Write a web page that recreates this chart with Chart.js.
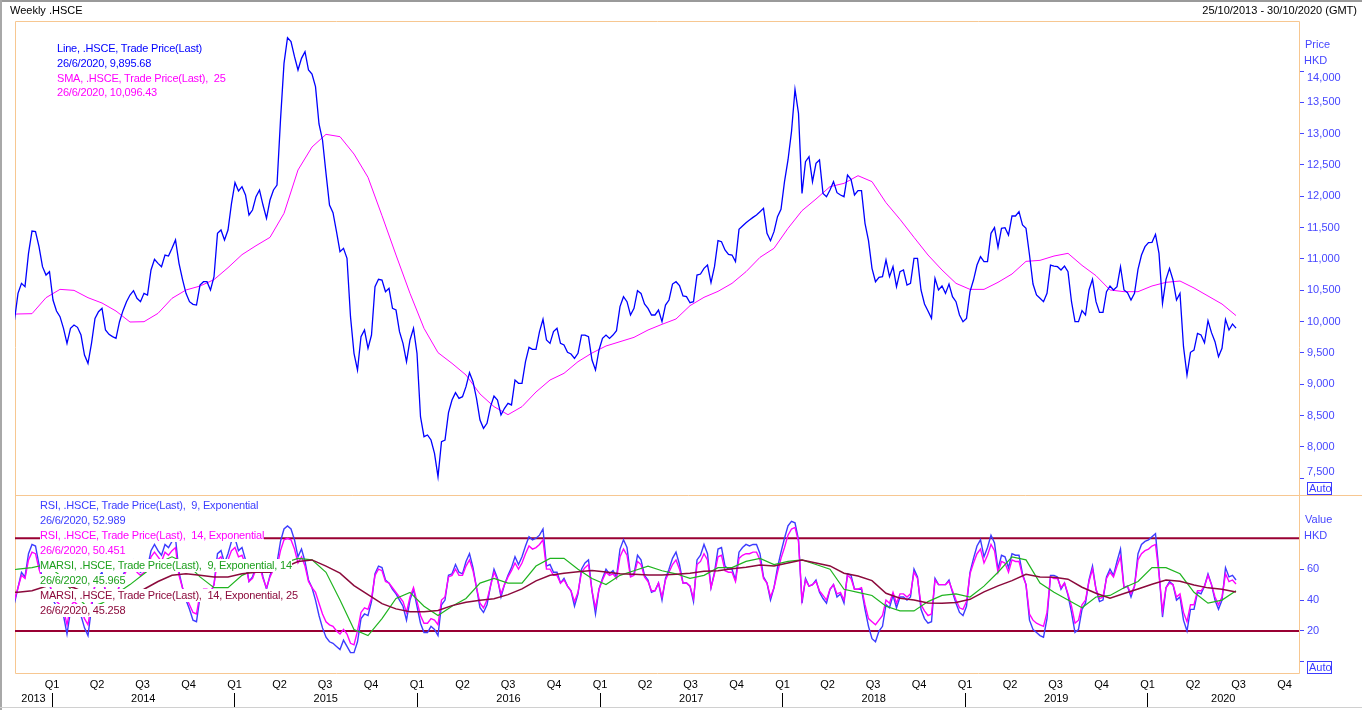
<!DOCTYPE html>
<html><head><meta charset="utf-8">
<script src="https://cdn.jsdelivr.net/npm/chart.js@4.4.1/dist/chart.umd.min.js"></script>
<style>
html,body{margin:0;padding:0;background:#fff;}
#wrap{position:relative;width:1362px;height:710px;overflow:hidden;font-family:"Liberation Sans",Arial,sans-serif;font-size:11px;}
canvas{position:absolute;left:0;top:0;}
.t{position:absolute;white-space:pre;line-height:13px;}
.lg{background:#fff;letter-spacing:-0.2px;}
.auto{position:absolute;box-sizing:border-box;border:1px solid #3c3cff;color:#3c3cff;line-height:11px;padding:0 1px;height:13px;width:25px;}
.ln{position:absolute;}
</style></head>
<body><div id="wrap">
<canvas id="c" width="1362" height="710"></canvas>
<div class="ln" style="left:0;top:0;width:1362px;height:2px;background:#9a9a9a"></div>
<div class="ln" style="left:0;top:0;width:2px;height:710px;background:#a8a8a8"></div>
<div class="ln" style="left:0;top:707px;width:1362px;height:1px;background:#d0d0d0"></div>
<div class="t" style="left:10px;top:4px;color:#000">Weekly .HSCE</div>
<div class="t" style="right:5px;top:4px;color:#000">25/10/2013 - 30/10/2020 (GMT)</div>

<div class="t lg" style="left:57px;top:42px;color:#0000ff">Line, .HSCE, Trade Price(Last)</div>
<div class="t lg" style="left:57px;top:57px;color:#0000ff">26/6/2020, 9,895.68</div>
<div class="t lg" style="left:57px;top:72px;color:#ff00ff">SMA, .HSCE, Trade Price(Last),  25</div>
<div class="t lg" style="left:57px;top:86px;color:#ff00ff">26/6/2020, 10,096.43</div>

<div class="t lg" style="left:40px;top:499px;color:#3c3cff">RSI, .HSCE, Trade Price(Last),  9, Exponential</div>
<div class="t lg" style="left:40px;top:514px;color:#3c3cff">26/6/2020, 52.989</div>
<div class="t lg" style="left:40px;top:529px;color:#ff00ff">RSI, .HSCE, Trade Price(Last),  14, Exponential</div>
<div class="t lg" style="left:40px;top:544px;color:#ff00ff">26/6/2020, 50.451</div>
<div class="t lg" style="left:40px;top:559px;color:#1ea01e">MARSI, .HSCE, Trade Price(Last),  9, Exponential, 14</div>
<div class="t lg" style="left:40px;top:574px;color:#1ea01e">26/6/2020, 45.965</div>
<div class="t lg" style="left:40px;top:589px;color:#8b0a3c">MARSI, .HSCE, Trade Price(Last),  14, Exponential, 25</div>
<div class="t lg" style="left:40px;top:604px;color:#8b0a3c">26/6/2020, 45.258</div>

<div class="t" style="left:1305px;top:38px;color:#4646ff">Price</div>
<div class="t" style="left:1304px;top:54px;color:#4646ff">HKD</div>
<div class="auto" style="left:1307px;top:482px">Auto</div>
<div class="t" style="left:1305px;top:513px;color:#4646ff">Value</div>
<div class="t" style="left:1304px;top:529px;color:#4646ff">HKD</div>
<div class="auto" style="left:1307px;top:661px">Auto</div>
</div>
<script>
// ---------- DATA (weekly, first point = week -1, i.e. 18/10/2013; week 0 = 25/10/2013) ----------
const firstWeek = -1;
const priceValues = [
10026,
10451,10611,10558,11090,11446,11436,11196,10877,10744,10797,
10345,10169,10079,9893,9653,9893,9946,9909,9786,9467,
9334,9653,10052,10159,10212,9866,9797,9760,9733,9999,
10175,10318,10425,10494,10372,10318,10451,10425,10824,10994,
10930,10877,11063,11047,11170,11303,10930,10675,10451,10318,
10276,10265,10584,10637,10637,10505,10717,11409,11462,11303,
11462,11888,12218,12085,12154,12021,11702,11781,11994,12101,
11861,11648,11941,12101,12180,13218,14122,14532,14468,14229,
14016,14202,14308,14016,13952,13750,13154,12899,12367,11861,
11739,11436,11117,11170,11010,10079,9494,9228,9760,9866,
9573,9786,10558,10675,10664,10478,10531,10212,10185,9840,
9653,9361,9707,9893,9494,8483,8164,8191,8111,7898,
7526,8084,8111,8547,8749,8866,8776,8802,8962,9185,
9042,8776,8430,8297,8377,8643,8813,8749,8510,8617,
8696,8670,9068,9015,9015,9361,9590,9558,9558,9840,
10037,9707,9653,9840,9893,9653,9627,9510,9483,9414,
9494,9786,9786,9760,9388,9228,9547,9733,9786,9733,
9786,9856,10239,10398,10318,10106,10212,10494,10451,10281,
10212,10106,10106,10185,9999,10265,10345,10600,10637,10574,
10409,10398,10302,10318,10744,10760,10850,10903,10622,10877,
11292,11276,11143,11074,11063,10957,11473,11526,11579,11622,
11664,11702,11755,11808,11409,11292,11436,11675,11792,12234,
12580,13032,13707,13324,12047,12553,12633,12234,12526,12580,
12047,11994,12101,12234,12058,12021,11994,12340,12271,12021,
12090,12090,11569,11292,10850,10637,10707,10717,10983,10717,
10877,10558,10797,10824,10584,10611,11010,11010,10505,10281,
10170,10052,10691,10505,10568,10451,10600,10398,10318,10106,
9999,10052,10478,10664,10904,11037,10957,10957,11409,11500,
11186,11489,11500,11382,11686,11686,11755,11542,11489,11063,
10600,10425,10372,10318,10451,10903,10887,10877,10824,10887,
10797,10318,9999,9999,10175,10106,10505,10675,10318,10148,
10148,10478,10568,10505,10558,10877,10505,10462,10345,10451,
10835,11063,11196,11260,11265,11393,11090,10292,10675,10850,
10664,10345,10451,9600,9148,9510,9547,9813,9786,9664,
10015,9824,9680,9441,9574,10036,9866,9962,9896
];
const rsi9Values = [
38,
48,58,55,70,76,75,63,54,49,51,
40,36,34,30,18,33,36,34,30,22,
17,35,50,55,58,45,42,41,40,50,
56,61,64,66,60,58,60,61,72,76,
72,69,76,74,78,80,58,48,40,34,
27,26,42,46,46,44,50,70,72,64,
70,78,80,72,74,66,52,55,62,65,
55,47,56,62,64,78,86,88,86,79,
68,73,65,53,48,40,30,22,16,13,
12,10,8,14,10,6,6,13,28,31,
30,39,57,62,61,53,51,47,44,40,
36,27,40,47,36,25,19,19,23,21,
17,37,40,56,57,63,58,57,65,70,
61,48,35,32,37,49,60,54,42,50,
56,61,68,63,68,75,81,79,80,82,
86,62,63,58,58,51,54,49,46,36,
44,60,64,66,46,31,47,54,60,57,
59,55,73,79,74,56,57,69,66,56,
53,45,46,51,40,54,60,67,71,63,
51,51,49,39,66,69,76,70,48,58,
73,74,62,60,60,53,71,74,76,75,
76,76,70,55,51,40,48,61,71,80,
88,91,90,79,38,54,49,50,53,45,
41,38,47,50,42,44,38,57,56,47,
47,47,34,23,15,13,20,23,37,35,
43,35,42,42,40,42,60,55,34,28,
25,26,54,50,50,50,53,45,38,32,
30,36,58,67,75,79,68,74,82,77,
60,69,68,61,70,69,69,57,50,27,
21,19,17,16,28,56,56,55,47,51,
43,32,19,21,34,38,53,62,47,39,
40,55,60,56,65,73,48,49,42,49,
70,76,78,79,81,83,58,29,48,52,
50,40,42,27,20,34,34,45,44,49,
57,50,40,34,40,61,55,56,52.989
];
const rsi14Values = [
40,
48,56,54,66,71,70,60,53,49,51,
42,39,37,34,24,36,39,37,34,28,
24,38,50,54,56,46,44,43,42,50,
55,59,61,63,58,56,58,59,68,71,
68,65,71,69,72,74,56,48,42,37,
32,31,44,47,47,45,50,66,68,61,
66,72,74,68,69,63,52,54,60,62,
54,48,55,60,61,72,79,80,79,73,
64,68,62,52,48,45,38,31,26,24,
23,20,18,21,18,12,11,20,32,35,
34,41,56,60,59,52,51,48,45,42,
39,32,42,48,39,30,25,25,28,27,
24,40,42,55,56,60,56,56,62,66,
59,48,38,35,40,49,58,53,44,50,
55,59,64,60,64,70,75,73,74,76,
79,60,60,56,56,51,53,49,46,39,
45,58,61,63,46,35,47,53,58,56,
57,54,68,73,69,55,56,65,63,55,
52,46,46,51,42,53,58,63,66,60,
51,51,49,41,63,65,70,66,48,57,
68,69,59,58,58,52,67,69,70,70,
71,71,66,54,51,42,48,58,67,74,
82,86,87,78,40,53,49,50,52,46,
43,40,47,50,44,45,40,56,54,47,
47,48,37,28,26,24,27,30,40,38,
45,38,44,44,42,44,58,54,37,33,
30,31,53,50,50,50,52,46,40,35,
34,39,57,64,70,73,64,69,76,72,
58,65,64,58,66,65,65,56,50,31,
27,25,24,23,32,55,54,54,48,51,
44,36,25,27,37,40,52,60,47,41,
42,54,58,55,62,68,48,49,44,49,
66,70,72,73,75,76,57,33,48,51,
50,42,44,32,26,37,37,46,46,49,
56,50,42,37,42,57,52,53,50.451
];
// smooth series read every 4 weeks, starting at week -4
const smoothFirstWeek = -4, smoothStep = 4;
const smaValues = [
10110,10122,10127,10382,10515,10499,10382,10297,10169,9994,
9999,10132,10372,10505,10568,10670,10861,11069,11212,11345,
11728,12420,12787,12989,12952,12675,12303,11691,11063,10451,
9893,9505,9334,9148,8845,8643,8515,8643,8877,9068,
9175,9361,9499,9611,9680,9749,9866,9957,10042,10255,
10388,10483,10611,10797,11026,11170,11489,11771,11957,12154,
12207,12329,12234,11898,11632,11345,11063,10824,10611,10515,
10515,10627,10760,10962,10978,11047,11090,10898,10733,10505,
10478,10478,10569,10627,10648,10537,10409,10281,10096.43
];
const marsi9Values = [
59,60,61,63,56,44,35,38,44,50,
57,64,68,64,55,48,48,56,60,58,
64,67,66,58,40,21,17,28,41,45,
36,30,36,41,51,54,51,51,62,67,
67,60,54,50,56,59,62,59,57,54,
56,61,61,65,67,63,65,66,63,60,
47,45,43,36,33,33,39,43,44,42,
49,58,68,66,51,45,40,35,42,43,
48,52,61,61,57,45,38,40,45.965
];
const marsi14Values = [
45,45,46,49,50,48,44,42,42,43,
47,52,56,57,56,55,55,57,58,58,
61,65,66,62,57.4,49.4,43.5,37.7,34.3,32.5,
32.5,33.2,36.4,38.6,39.9,40.9,43.5,47.2,52.4,56.1,
57.4,58.4,59.1,58.2,57.1,56.7,56.3,56.3,56.7,57.4,
58.6,58.9,60.2,61.2,62.7,62.1,64,66,64,62.1,
57.4,55.6,52.6,44.4,41.2,40.1,38.1,37.9,38.4,40.5,
45.3,49.2,52.6,56.7,55,54.8,53.5,48.3,44.4,41.2,
44.2,47.2,50.2,53,52.2,49.8,47.9,47,45.258
];
const rsiLevels = [80, 20];
const priceTickValues = [7500,8000,8500,9000,9500,10000,10500,11000,11500,12000,12500,13000,13500,14000];
const rsiTickValues = [0,20,40,60];
const quarterNames = ['Q1','Q2','Q3','Q4'];
const yearNames = ['2013','2014','2015','2016','2017','2018','2019','2020'];

// ---------- helpers ----------
const DAY0 = Date.UTC(2013,9,25);
const dayOf = (y,m,d) => (Date.UTC(y,m,d) - DAY0) / 864e5;
const X_MIN = dayOf(2013,9,19), X_MAX = dayOf(2020,9,30);
const weekly = (arr, w0, step) => arr.map((v,k) => ({x:(w0 + k*step)*7, y:v}));

const qTicks = [], qLabel = new Map();
for (let y = 2014; y <= 2020; y++) for (let q = 0; q < 4; q++) {
  const v = dayOf(y, q*3, 1); qTicks.push(v); qLabel.set(v, quarterNames[q]);
}
const yTicks = [], yLabel = new Map(), sepSet = new Set();
yearNames.forEach((name, i) => {
  const yr = 2013 + i;
  const s = Math.max(X_MIN, dayOf(yr,0,1)), e = Math.min(X_MAX, dayOf(yr+1,0,1));
  const mid = (s + e) / 2; yTicks.push(mid); yLabel.set(mid, name);
  if (yr >= 2014) { const b = dayOf(yr,0,1); yTicks.push(b); sepSet.add(b); }
});
yTicks.sort((a,b)=>a-b);

const fmt = v => v.toLocaleString('en-US');
const AX = '#4646ff';
const ORANGE = '#f7c791';

const framePlugin = {
  id: 'frame',
  beforeDatasetsDraw(chart) {
    const {ctx, chartArea: a} = chart; const y2 = chart.scales.y2;
    ctx.save(); ctx.strokeStyle = ORANGE; ctx.lineWidth = 1;
    const L = Math.round(a.left) + 0.5, R = Math.round(a.right) + 0.5, T = Math.round(a.top) + 0.5, B = Math.round(a.bottom) + 0.5, M = Math.round(y2.top) + 0.5;
    ctx.beginPath();
    ctx.moveTo(L, T); ctx.lineTo(R, T); ctx.lineTo(R, B); ctx.lineTo(L, B); ctx.closePath();
    ctx.moveTo(L, M); ctx.lineTo(chart.width, M);
    ctx.stroke(); ctx.restore();
  }
};

const last = arr => arr[arr.length - 1];
const MARK_X = X_MAX + 10;
const marker = (val, color, axis) => ({
  data: [{x: MARK_X, y: val}], yAxisID: axis, showLine: false, clip: false,
  pointStyle: 'rectRot', pointRadius: 4, pointBackgroundColor: color, pointBorderColor: color, borderColor: color
});
const line = (data, color, width, axis) => ({
  data, yAxisID: axis, borderColor: color, borderWidth: width, pointRadius: 0, tension: 0, fill: false
});

Chart.defaults.font.family = '"Liberation Sans", Arial, sans-serif';
Chart.defaults.font.size = 11;

new Chart(document.getElementById('c'), {
  type: 'line',
  data: {
    datasets: [
      marker(last(rsi9Values), '#3c3cff', 'y2'),
      marker(last(rsi14Values), '#ff00ff', 'y2'),
      marker(last(marsi14Values), '#8b0a3c', 'y2'),
      marker(last(marsi9Values), '#1fb41f', 'y2'),
      marker(last(priceValues), '#0000ff', 'y'),
      marker(last(smaValues), '#ff00ff', 'y'),
      line(weekly(priceValues, firstWeek, 1), '#0000ff', 1.3, 'y'),
      line(weekly(smaValues, smoothFirstWeek, smoothStep), '#ff00ff', 1, 'y'),
      line(weekly(marsi14Values, smoothFirstWeek, smoothStep), '#8b0a3c', 1.5, 'y2'),
      line(weekly(marsi9Values, smoothFirstWeek, smoothStep), '#1fb41f', 1.2, 'y2'),
      line(weekly(rsi14Values, firstWeek, 1), '#ff00ff', 1.4, 'y2'),
      line(weekly(rsi9Values, firstWeek, 1), '#3c3cff', 1.4, 'y2'),
      ...rsiLevels.map(v => line([{x: X_MIN, y: v}, {x: X_MAX, y: v}], '#990033', 2, 'y2'))
    ]
  },
  options: {
    responsive: false, animation: false, events: [],
    layout: { padding: { left: 15, top: 21, right: 0, bottom: 0 } },
    plugins: { legend: { display: false }, tooltip: { enabled: false } },
    scales: {
      x: {
        type: 'linear', position: 'bottom', min: X_MIN, max: X_MAX,
        afterBuildTicks: s => { s.ticks = qTicks.map(v => ({value: v})); },
        ticks: { autoSkip: false, maxRotation: 0, padding: 5, color: '#000', callback: v => qLabel.get(v) || '' },
        grid: { drawOnChartArea: false, drawTicks: false },
        border: { display: false },
        afterFit: s => { s.height = 20; }
      },
      xYear: {
        type: 'linear', position: 'bottom', min: X_MIN, max: X_MAX,
        afterBuildTicks: s => { s.ticks = yTicks.map(v => ({value: v})); },
        ticks: { autoSkip: false, maxRotation: 0, padding: -15, color: '#000', callback: v => yLabel.get(v) || '' },
        grid: { drawOnChartArea: false, drawTicks: true, tickLength: 14, lineWidth: 1,
                tickColor: c => (c.tick && sepSet.has(c.tick.value)) ? '#000' : 'rgba(0,0,0,0)' },
        border: { display: false },
        afterFit: s => { s.height = 17; }
      },
      y: {
        type: 'linear', position: 'right', stack: 'panes', stackWeight: 474,
        min: 7233, max: 14798,
        afterBuildTicks: s => { s.ticks = priceTickValues.map(v => ({value: v})); },
        ticks: { color: AX, padding: 3, autoSkip: false,
          callback: v => v === priceTickValues[priceTickValues.length-1] ? ['', fmt(v)] : (v === priceTickValues[0] ? [fmt(v), ''] : fmt(v)) },
        grid: { drawOnChartArea: false, drawTicks: true, tickLength: 5, tickColor: AX },
        border: { display: false },
        afterFit: s => { s.width = 63; }
      },
      y2: {
        type: 'linear', position: 'right', stack: 'panes', stackWeight: 178,
        min: -7.2, max: 108,
        afterBuildTicks: s => { s.ticks = rsiTickValues.map(v => ({value: v})); },
        ticks: { color: AX, padding: 3, autoSkip: false, callback: v => v === 0 ? '' : String(v) },
        grid: { drawOnChartArea: false, drawTicks: true, tickLength: 5, tickColor: AX },
        border: { display: false },
        afterFit: s => { s.width = 63; }
      }
    }
  },
  plugins: [framePlugin]
});
</script>
</body></html>
